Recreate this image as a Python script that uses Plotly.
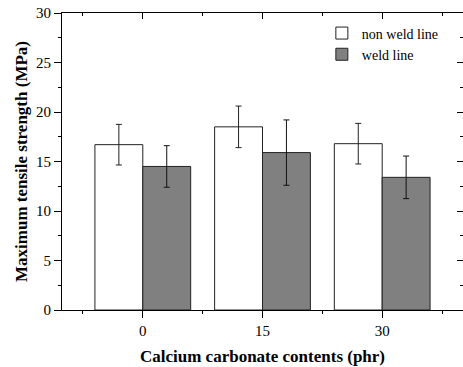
import plotly.graph_objects as go

categories = ["0", "15", "30"]
positions = [0, 1, 2]
non_weld = [16.7, 18.5, 16.8]
non_weld_err = [2.05, 2.1, 2.05]
weld = [14.5, 15.9, 13.4]
weld_err = [2.1, 3.3, 2.15]

FONT = "Liberation Serif"

fig = go.Figure()
fig.add_trace(go.Bar(
    x=positions, y=non_weld, name="non weld line",
    marker=dict(color="white", line=dict(color="#222222", width=1)),
    error_y=dict(type="data", array=non_weld_err, color="#222222", thickness=1, width=3),
))
fig.add_trace(go.Bar(
    x=positions, y=weld, name="weld line",
    marker=dict(color="#808080", line=dict(color="#222222", width=1)),
    error_y=dict(type="data", array=weld_err, color="#111111", thickness=1, width=3),
))
# invisible trace to anchor the mirrored top/right axes
fig.add_trace(go.Scatter(x=[positions[0]], y=[0], xaxis="x2", yaxis="y2",
                         mode="markers", marker=dict(opacity=0), showlegend=False, hoverinfo="skip"))

xr = [-0.675, 2.675]
yr = [0, 30]
fig.update_layout(
    width=463, height=367,
    margin=dict(l=62, r=0, t=13, b=57),
    paper_bgcolor="white", plot_bgcolor="white",
    barmode="group", bargap=0.2, bargroupgap=0,
    font=dict(family=FONT, size=15, color="black"),
    showlegend=True,
    legend=dict(x=0.648, y=0.985, xanchor="left", yanchor="top",
                bgcolor="rgba(0,0,0,0)", font=dict(family=FONT, size=14),
                tracegroupgap=0, itemwidth=30),
    xaxis=dict(range=xr, tickvals=positions, ticktext=categories,
               ticks="outside", ticklen=7, tickwidth=1, tickcolor="black",
               minor=dict(tickvals=[-0.5, 0.5, 1.5, 2.5], ticks="outside", ticklen=3, tickcolor="black"),
               showline=True, linecolor="black", linewidth=1, showgrid=False, zeroline=False,
               title=dict(text="<b>Calcium carbonate contents (phr)</b>", font=dict(family=FONT, size=17), standoff=12),
               tickfont=dict(family=FONT, size=15)),
    yaxis=dict(range=yr, tickvals=[0, 5, 10, 15, 20, 25, 30],
               ticks="outside", ticklen=7, tickwidth=1, tickcolor="black",
               minor=dict(dtick=2.5, tick0=0, ticks="outside", ticklen=3, tickcolor="black"),
               showline=True, linecolor="black", linewidth=1, showgrid=False, zeroline=False,
               title=dict(text="<b>Maximum tensile strength (MPa)</b>", font=dict(family=FONT, size=17), standoff=4),
               tickfont=dict(family=FONT, size=15)),
    xaxis2=dict(range=xr, overlaying="x", side="top", anchor="y2",
                tickvals=positions, showticklabels=False,
                ticks="inside", ticklen=6, tickwidth=1, tickcolor="black",
                minor=dict(tickvals=[-0.5, 0.5, 1.5, 2.5], ticks="inside", ticklen=3, tickcolor="black"),
                showline=True, linecolor="black", linewidth=1, showgrid=False, zeroline=False),
    yaxis2=dict(range=yr, overlaying="y", side="right", anchor="x2",
                tickvals=[0, 5, 10, 15, 20, 25, 30], showticklabels=False,
                ticks="inside", ticklen=6, tickwidth=1, tickcolor="black",
                minor=dict(dtick=2.5, tick0=0, ticks="inside", ticklen=3, tickcolor="black"),
                showline=True, linecolor="black", linewidth=1, showgrid=False, zeroline=False),
)
fig.write_html("out.html")
